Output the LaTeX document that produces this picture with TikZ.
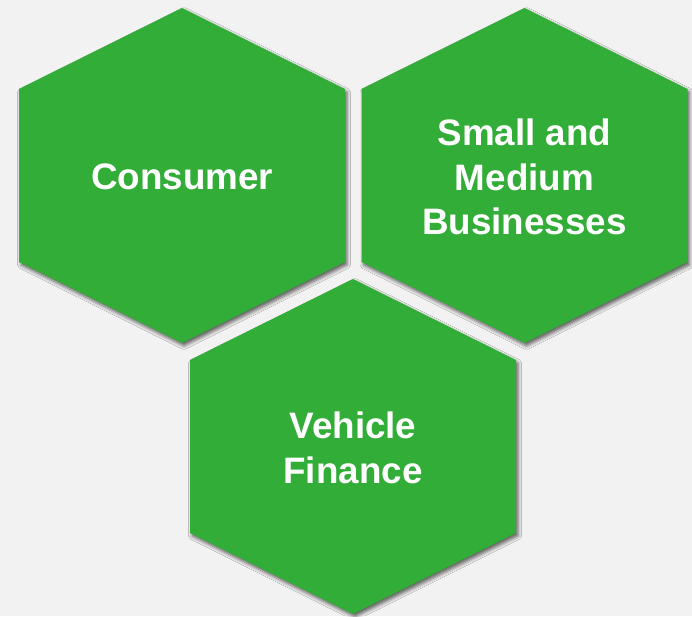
\documentclass[tikz,border=0pt]{standalone}
\usepackage{fontspec}
\setmainfont{Liberation Sans}
\usepackage{tikz}
\usetikzlibrary{shadows.blur}
\definecolor{cellgreen}{RGB}{50,173,56}
\definecolor{bggray}{RGB}{242,242,242}
\tikzset{
  cell/.style={fill=cellgreen, blur shadow={shadow xshift=2pt, shadow yshift=-3pt, shadow blur radius=3.5pt, shadow opacity=60}},
  celltext/.style={text=white, align=center, font=\fontsize{36.8}{44.5}\selectfont\bfseries},
  hexcell/.pic={
    \fill[cell] (0,-167.5) -- (163,-86.5) -- (163,86.5) -- (0,167.5) -- (-163,86.5) -- (-163,-86.5) -- cycle;
  },
}

\begin{document}
\begin{tikzpicture}[x=1pt, y=-1pt]
  \fill[bggray] (0,0) rectangle (692,616);
  \useasboundingbox (0,0) rectangle (692,616);

  \pic at (182,175.5) {hexcell};
  \pic at (524.5,175.5) {hexcell};
  \pic at (353,446.5) {hexcell};

  \node[celltext] (consumer) at (182,177) {Consumer};
  \node[celltext] (smb) at (524.5,177) {Small and\\Medium\\Businesses};
  \node[celltext] (vehicle) at (353,448) {Vehicle\\Finance};
\end{tikzpicture}
\end{document}
